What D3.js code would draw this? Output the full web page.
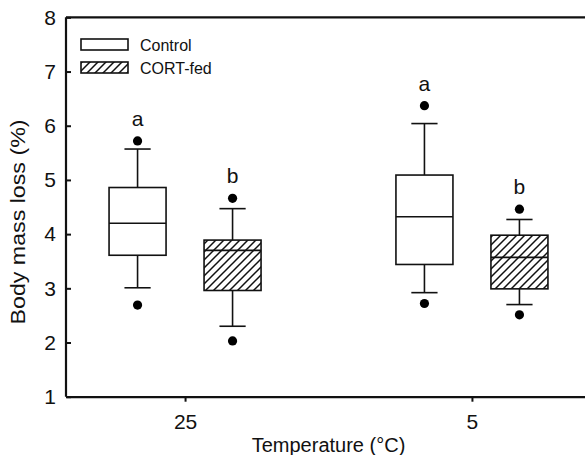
<!DOCTYPE html>
<html>
<head>
<meta charset="utf-8">
<script src="https://cdn.jsdelivr.net/npm/d3@7"></script>
<style>
  body { margin: 0; background: #fff; }
  svg { display: block; font-family: Arial, "Liberation Sans", sans-serif; }
</style>
</head>
<body>
<div id="chart"></div>
<script>
// body mass loss box plots, control vs CORT-fed at two temperatures

const temps = ['25', '5'];
const treatments = ['Control', 'CORT-fed'];
const yTicks = [1, 2, 3, 4, 5, 6, 7, 8];

// [lower whisker, Q1, median, Q3, upper whisker] per temperature
const controlBoxes = [[3.01, 3.61, 4.20, 4.86, 5.57], [2.92, 3.44, 4.32, 5.09, 6.04]];
const cortBoxes = [[2.30, 2.96, 3.70, 3.89, 4.47], [2.70, 2.99, 3.57, 3.98, 4.27]];

// outlying points (low, high)
const controlOutliers = [[2.69, 5.72], [2.72, 6.37]];
const cortOutliers = [[2.03, 4.66], [2.51, 4.46]];

// significance letters
const controlLetters = ['a', 'a'];
const cortLetters = ['b', 'b'];

const width = 585;
const height = 455;
const margin = { top: 17, right: -6, bottom: 59, left: 66 };

const svg = d3.select('#chart')
  .append('svg')
  .attr('width', width)
  .attr('height', height);

const defs = svg.append('defs');
const hatch = defs.append('pattern')
  .attr('id', 'hatch')
  .attr('patternUnits', 'userSpaceOnUse')
  .attr('width', 8)
  .attr('height', 8);
hatch.append('rect').attr('width', 8).attr('height', 8).attr('fill', '#fff');
hatch.append('path')
  .attr('d', 'M-2,2 L2,-2 M0,8 L8,0 M6,10 L10,6')
  .attr('stroke', '#111')
  .attr('stroke-width', 1.5);

const x = d3.scalePoint()
  .domain(temps)
  .range([margin.left, width - margin.right])
  .padding(0.415);

const xSub = d3.scaleBand()
  .domain(treatments)
  .range([-76, 76])
  .paddingInner(0.4);

const y = d3.scaleLinear()
  .domain([1, 8])
  .range([height - margin.bottom + 0.7, margin.top + 0.35]);

// series built from the arrays above
const series = [
  { name: 'Control', boxes: controlBoxes, outliers: controlOutliers, letters: controlLetters, fill: '#fff' },
  { name: 'CORT-fed', boxes: cortBoxes, outliers: cortOutliers, letters: cortLetters, fill: 'url(#hatch)' }
];

const bw = xSub.bandwidth();
const capW = bw * 0.46;

series.forEach(s => {
  const g = svg.append('g').attr('class', 'series');
  temps.forEach((t, i) => {
    const cx = x(t) + xSub(s.name) + bw / 2;
    const [lo, q1, med, q3, hi] = s.boxes[i];

    // whiskers
    g.append('line')
      .attr('x1', cx).attr('x2', cx)
      .attr('y1', y(q3)).attr('y2', y(hi))
      .attr('stroke', '#111').attr('stroke-width', 1.6);
    g.append('line')
      .attr('x1', cx).attr('x2', cx)
      .attr('y1', y(q1)).attr('y2', y(lo))
      .attr('stroke', '#111').attr('stroke-width', 1.6);
    [lo, hi].forEach(v => {
      g.append('line')
        .attr('x1', cx - capW / 2).attr('x2', cx + capW / 2)
        .attr('y1', y(v)).attr('y2', y(v))
        .attr('stroke', '#111').attr('stroke-width', 1.6);
    });

    // box
    g.append('rect')
      .attr('x', cx - bw / 2)
      .attr('y', y(q3))
      .attr('width', bw)
      .attr('height', y(q1) - y(q3))
      .attr('fill', s.fill)
      .attr('stroke', '#111')
      .attr('stroke-width', 1.6);
    g.append('line')
      .attr('x1', cx - bw / 2).attr('x2', cx + bw / 2)
      .attr('y1', y(med)).attr('y2', y(med))
      .attr('stroke', '#111').attr('stroke-width', 1.6);

    // outliers
    s.outliers[i].forEach(v => {
      g.append('circle')
        .attr('cx', cx).attr('cy', y(v))
        .attr('r', 4.6)
        .attr('fill', '#000');
    });

    // letter above top point
    g.append('text')
      .attr('x', cx)
      .attr('y', y(d3.max(s.outliers[i])) - 15)
      .attr('text-anchor', 'middle')
      .attr('font-size', 21)
      .attr('fill', '#111')
      .text(s.letters[i]);
  });
});

// axes
const yAxis = d3.axisLeft(y)
  .tickValues(yTicks)
  .tickFormat(d3.format('d'))
  .tickSize(-5)
  .tickPadding(10);

const yG = svg.append('g')
  .attr('transform', `translate(${margin.left},0)`)
  .call(yAxis);

const xAxis = d3.axisBottom(x)
  .tickSize(5)
  .tickPadding(12)
  .tickSizeOuter(0);

const xG = svg.append('g')
  .attr('transform', `translate(0,${y(1)})`)
  .call(xAxis);

[yG, xG].forEach(a => {
  a.select('.domain').attr('stroke', '#111').attr('stroke-width', 2.2);
  a.selectAll('.tick line').attr('stroke', '#111').attr('stroke-width', 2);
  a.selectAll('.tick text')
    .attr('font-size', 21)
    .attr('font-family', 'Arial, "Liberation Sans", sans-serif')
    .attr('fill', '#111');
});
yG.select('.domain').attr('d', `M0,${y(8)}V${y(1)}`);

// top frame line
svg.append('line')
  .attr('x1', margin.left).attr('x2', width)
  .attr('y1', y(8)).attr('y2', y(8))
  .attr('stroke', '#111')
  .attr('stroke-width', 2.2);

// axis titles
svg.append('text')
  .attr('x', (margin.left + width) / 2 + 3)
  .attr('y', 452)
  .attr('text-anchor', 'middle')
  .attr('font-size', 20)
  .attr('fill', '#111')
  .text('Temperature (°C)');

svg.append('text')
  .attr('transform', `translate(25,${222}) rotate(-90)`)
  .attr('text-anchor', 'middle')
  .attr('font-size', 20)
  .attr('textLength', 205)
  .attr('lengthAdjust', 'spacingAndGlyphs')
  .attr('fill', '#111')
  .text('Body mass loss (%)');

// legend
const legend = svg.append('g').attr('transform', 'translate(81,39)');
series.forEach((s, i) => {
  legend.append('rect')
    .attr('x', 0)
    .attr('y', i * 23)
    .attr('width', 47)
    .attr('height', 11)
    .attr('fill', s.fill)
    .attr('stroke', '#111')
    .attr('stroke-width', 1.6);
  legend.append('text')
    .attr('x', 59)
    .attr('y', i * 23 + 6)
    .attr('dy', '0.35em')
    .attr('font-size', 16)
    .attr('fill', '#111')
    .text(s.name);
});
</script>
</body>
</html>
